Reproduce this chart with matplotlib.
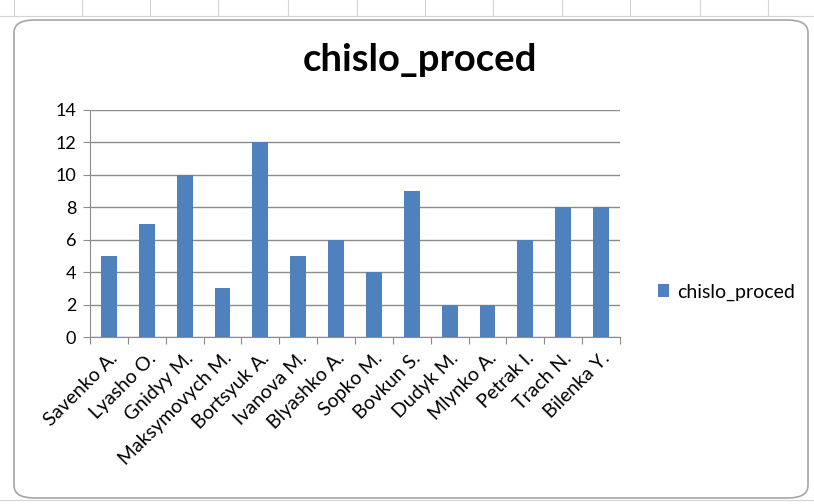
import matplotlib.pyplot as plt
from matplotlib.patches import FancyBboxPatch
from matplotlib.lines import Line2D

names = ['Savenko A.', 'Lyasho O.', 'Gnidyy M.', 'Maksymovych M.', 'Bortsyuk A.',
         'Ivanova M.', 'Blyashko A.', 'Sopko M.', 'Bovkun S.', 'Dudyk M.',
         'Mlynko A.', 'Petrak I.', 'Trach N.', 'Bilenka Y.']
values = [5, 7, 10, 3, 12, 5, 6, 4, 9, 2, 2, 6, 8, 8]
y_ticks = [0, 2, 4, 6, 8, 10, 12, 14]

plt.rcParams['font.family'] = ['Lato', 'DejaVu Sans']
bar_color = '#4F81BD'
grid_color = '#8C8C8C'

fig = plt.figure(figsize=(8.14, 5.04), dpi=100)
W, H = 814, 504

# spreadsheet cells behind the chart
for x in [14, 82, 150, 218, 288, 357, 425, 493, 562, 630, 700, 768]:
    fig.add_artist(Line2D([x / W, x / W], [1 - 0 / H, 1 - 16 / H],
                          transform=fig.transFigure, color='#D4D4D4', lw=0.8))
fig.add_artist(Line2D([0, 1], [1 - 16 / H, 1 - 16 / H],
                      transform=fig.transFigure, color='#D4D4D4', lw=0.8))
fig.add_artist(Line2D([0, 1], [1 - 500 / H, 1 - 500 / H],
                      transform=fig.transFigure, color='#D4D4D4', lw=0.8))

# chart frame
frame = FancyBboxPatch((14 / W, 1 - 498 / H), (808 - 14) / W, (498 - 20) / H,
                       boxstyle='round,pad=0,rounding_size=0.025',
                       transform=fig.transFigure, facecolor='white',
                       edgecolor='#A6A6A6', lw=1.2, zorder=0)
fig.add_artist(frame)

ax = fig.add_axes([90 / W, 1 - 337 / H, (620 - 90) / W, (337 - 110) / H])
ax.set_facecolor('none')
x = list(range(len(names)))
ax.bar(x, values, width=0.42, color=bar_color, label='chislo_proced', zorder=3)

ax.set_xlim(-0.5, len(names) - 0.5)
ax.set_ylim(0, 14)
ax.set_yticks(y_ticks)
ax.yaxis.grid(True, color=grid_color, lw=1.0)
ax.set_axisbelow(True)
for s in ['top', 'right']:
    ax.spines[s].set_visible(False)
ax.spines['left'].set_color(grid_color)
ax.spines['bottom'].set_color(grid_color)
ax.tick_params(axis='y', length=5, color=grid_color, labelsize=13, pad=5)

ax.set_xticks([i - 0.5 for i in range(len(names) + 1)], minor=False)
ax.set_xticklabels([])
ax.set_xticks(x, minor=True)
ax.set_xticklabels(names, minor=True, rotation=45, ha='right',
                   rotation_mode='anchor', fontsize=14)
ax.tick_params(axis='x', which='major', length=5, color=grid_color)
ax.tick_params(axis='x', which='minor', length=0, pad=9)

fig.text(420 / W, 1 - 60 / H, 'chislo_proced', ha='center', va='center',
         fontsize=27.5, fontweight='bold')

ax.legend(loc='center left', bbox_to_anchor=(640 / W, 1 - 292 / H),
          bbox_transform=fig.transFigure, frameon=False, fontsize=14,
          handlelength=0.6, handleheight=0.6, handletextpad=0.4)

fig.savefig('out.png', dpi=100)
